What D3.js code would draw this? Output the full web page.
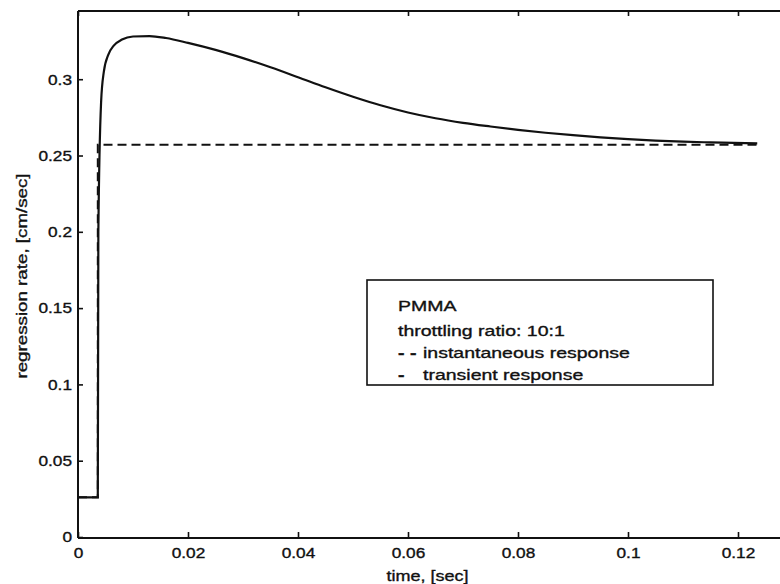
<!DOCTYPE html>
<html>
<head>
<meta charset="utf-8">
<script src="https://cdn.jsdelivr.net/npm/d3@7"></script>
<style>
  body { margin: 0; background: #fff; }
  text { font-family: "Liberation Sans", Arial, sans-serif; fill: #111; stroke: #111; stroke-width: 0.35px; }
</style>
</head>
<body>
<div id="chart"></div>
<script>
// values
var instTime = [0, 0.0036, 0.0036, 0.1235];
var instRate = [0.026, 0.026, 0.257, 0.257];

var transTime = [0, 0.0036, 0.0037, 0.0042, 0.0047, 0.0055, 0.0065, 0.008, 0.010, 0.013,
    0.016, 0.020, 0.025, 0.030, 0.035, 0.040, 0.045, 0.050, 0.055, 0.060, 0.065,
    0.070, 0.075, 0.080, 0.085, 0.090, 0.095, 0.100, 0.105, 0.110, 0.115, 0.1235];
var transRate = [0.026, 0.026, 0.20, 0.285, 0.305, 0.316, 0.322, 0.326, 0.328, 0.3283,
    0.327, 0.3238, 0.3192, 0.3138, 0.3078, 0.3013, 0.2947, 0.2885, 0.2829, 0.2782, 0.2744,
    0.2714, 0.269, 0.2668, 0.2649, 0.2633, 0.2619, 0.2607, 0.2598, 0.2591, 0.2586, 0.258];

var xTicks = [0, 0.02, 0.04, 0.06, 0.08, 0.1, 0.12];
var yTicks = [0, 0.05, 0.1, 0.15, 0.2, 0.25, 0.3];

var legendLines = ["PMMA", "throttling ratio: 10:1", "instantaneous response", "transient response"];
var legendMarks = ["", "", "- -", "-"];

var W = 780, H = 584;
var x = d3.scaleLinear().domain([0, 0.13]).range([78, 793]);
var y = d3.scaleLinear().domain([0, 0.3447]).range([537, 11]);

var svg = d3.select("#chart").append("svg")
    .attr("width", W)
    .attr("height", H);

// stretch text sideways a bit, the scan has wide lettering
function stretch(sel, sx) {
    sel.each(function () {
        var t = d3.select(this);
        var tx = +t.attr("x") || 0;
        t.attr("x", 0).attr("transform", "translate(" + tx + ",0) scale(" + sx + ",1)");
    });
}

// bottom axis
var xAxis = svg.append("g")
    .attr("transform", "translate(0," + y(0) + ")")
    .call(d3.axisBottom(x).tickValues(xTicks).tickSize(-5).tickPadding(8)
        .tickFormat(function (d) { return d === 0 ? "0" : d3.format("~g")(d); }));
// top axis (box)
var xTop = svg.append("g")
    .attr("transform", "translate(0," + y.range()[1] + ")")
    .call(d3.axisTop(x).tickValues(xTicks).tickSize(-5).tickFormat(""));
// left axis
var yAxis = svg.append("g")
    .attr("transform", "translate(" + x(0) + ",0)")
    .call(d3.axisLeft(y).tickValues(yTicks).tickSize(-5).tickPadding(6)
        .tickFormat(function (d) { return d === 0 ? "0" : d3.format("~g")(d); }));

svg.selectAll(".domain").remove();
svg.selectAll(".tick line").attr("stroke", "#111").attr("stroke-width", 1.6);
svg.selectAll(".tick text").style("font-size", "15px").style("font-family", "Liberation Sans, Arial, sans-serif").attr("fill", "#111");
xAxis.selectAll(".tick text").attr("dy", "0.9em");
yAxis.selectAll(".tick text").attr("text-anchor", "end");
stretch(xAxis.selectAll(".tick text"), 1.15);
stretch(yAxis.selectAll(".tick text"), 1.15);

// frame
svg.append("line")
    .attr("x1", x(0)).attr("x2", x(0))
    .attr("y1", y.range()[1]).attr("y2", y(0) + 1)
    .attr("stroke", "#111").attr("stroke-width", 2);
svg.append("line")
    .attr("x1", x(0)).attr("x2", W)
    .attr("y1", y(0) + 1).attr("y2", y(0) + 1)
    .attr("stroke", "#111").attr("stroke-width", 2);
svg.append("line")
    .attr("x1", x(0)).attr("x2", W)
    .attr("y1", y.range()[1]).attr("y2", y.range()[1])
    .attr("stroke", "#111").attr("stroke-width", 2);

// curves
var line = d3.line()
    .x(function (d) { return x(d[0]); })
    .y(function (d) { return y(d[1]); });

svg.append("path")
    .datum(d3.zip(instTime, instRate))
    .attr("d", line)
    .attr("fill", "none")
    .attr("stroke", "#111")
    .attr("stroke-width", 2)
    .attr("stroke-dasharray", "9,5");

svg.append("path")
    .datum(d3.zip(transTime, transRate))
    .attr("d", line.curve(d3.curveMonotoneX))
    .attr("fill", "none")
    .attr("stroke", "#111")
    .attr("stroke-width", 2.2);

// axis labels
svg.append("text")
    .attr("transform", "translate(" + ((x(0) + x(0.13)) / 2 - 8) + ",581) scale(1.2,1)")
    .attr("text-anchor", "middle")
    .style("font-size", "15px")
    .text("time, [sec]");

svg.append("text")
    .attr("transform", "translate(27," + ((y.range()[0] + y.range()[1]) / 2 + 2) + ") rotate(-90) scale(1.25,1)")
    .attr("text-anchor", "middle")
    .style("font-size", "15px")
    .text("regression rate, [cm/sec]");

// legend
var lg = svg.append("g");
lg.append("rect")
    .attr("x", 367).attr("y", 280)
    .attr("width", 346).attr("height", 105)
    .attr("fill", "#fff")
    .attr("stroke", "#111")
    .attr("stroke-width", 1.6);

var rowY = [311, 336, 358, 380];
lg.selectAll("text.lbl")
    .data(legendLines)
    .enter().append("text")
    .attr("class", "lbl")
    .attr("transform", function (d, i) {
        var tx = legendMarks[i] ? 423 : 398;
        return "translate(" + tx + "," + rowY[i] + ") scale(1.3,1)";
    })
    .style("font-size", "15px")
    .text(function (d) { return d; });

lg.selectAll("text.mark")
    .data(legendMarks.filter(function (d) { return d; }))
    .enter().append("text")
    .attr("class", "mark")
    .attr("transform", function (d, i) { return "translate(398," + rowY[i + 2] + ") scale(1.3,1)"; })
    .style("font-size", "15px")
    .style("font-weight", "bold")
    .text(function (d) { return d; });
</script>
</body>
</html>
